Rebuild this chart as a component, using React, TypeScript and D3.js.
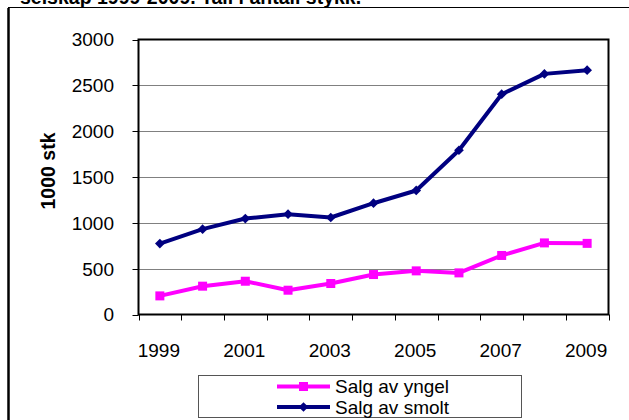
import * as d3 from "d3";
import { useRef, useEffect } from "react";

const years = ["1999", "2000", "2001", "2002", "2003", "2004", "2005", "2006", "2007", "2008", "2009"];
const yngel = [203, 309, 363, 265, 338, 436, 476, 454, 644, 781, 776];
const smolt = [774, 931, 1047, 1094, 1058, 1214, 1353, 1792, 2403, 2625, 2665];
const yTicks = [0, 500, 1000, 1500, 2000, 2500, 3000];
const xLabels = ["1999", "2001", "2003", "2005", "2007", "2009"];
const seriesNames = ["Salg av yngel", "Salg av smolt"];
const title = "selskap 1999-2009. Tall i antall stykk.";
const yLabel = "1000 stk";

export default function App() {
  const ref = useRef(null);

  useEffect(() => {
    const width = 629;
    const height = 420;
    const font = "Arial, 'Liberation Sans', sans-serif";
    const plot = { left: 138.5, right: 608.5, top: 39.5, bottom: 314.5 };

    const svg = d3.select(ref.current);
    svg.selectAll("*").remove();
    svg.attr("width", width).attr("height", height)
      .style("position", "absolute").style("left", 0).style("top", 0);

    svg.append("rect").attr("width", width).attr("height", height).attr("fill", "#fff");

    // title, cut off at the top edge like the source
    svg.append("text")
      .attr("x", 20).attr("y", 4)
      .attr("font-family", font).attr("font-size", 19.5).attr("font-weight", "bold")
      .text(title);

    // outer frame
    svg.append("line").attr("x1", 8).attr("x2", width).attr("y1", 7.5).attr("y2", 7.5)
      .attr("stroke", "#000").attr("stroke-width", 1);
    svg.append("line").attr("x1", 8.5).attr("x2", 8.5).attr("y1", 8).attr("y2", height)
      .attr("stroke", "#000").attr("stroke-width", 2.5);

    const x = d3.scaleBand().domain(years).range([plot.left, plot.right]);
    const y = d3.scaleLinear().domain([0, 3000]).range([plot.bottom, plot.top]);
    const cx = (yr) => x(yr) + x.bandwidth() / 2;

    // gridlines
    svg.append("g").selectAll("line")
      .data(yTicks.filter(t => t > 0 && t < 3000))
      .enter().append("line")
      .attr("x1", plot.left).attr("x2", plot.right)
      .attr("y1", d => Math.round(y(d)) + 0.5).attr("y2", d => Math.round(y(d)) + 0.5)
      .attr("stroke", "#808080").attr("stroke-width", 1);

    // plot border
    svg.append("rect")
      .attr("x", plot.left).attr("y", plot.top)
      .attr("width", plot.right - plot.left).attr("height", plot.bottom - plot.top)
      .attr("fill", "none").attr("stroke", "#000").attr("stroke-width", 2);

    // y ticks
    const yg = svg.append("g");
    yg.selectAll("line").data(yTicks).enter().append("line")
      .attr("x1", plot.left - 6).attr("x2", plot.left)
      .attr("y1", d => Math.round(y(d)) + 0.5).attr("y2", d => Math.round(y(d)) + 0.5)
      .attr("stroke", "#000");
    yg.selectAll("text").data(yTicks).enter().append("text")
      .attr("x", 114).attr("y", d => y(d)).attr("dy", "0.36em")
      .attr("text-anchor", "end")
      .attr("font-family", font).attr("font-size", 19)
      .text(d => d);

    // x ticks at category boundaries
    const bounds = years.map(yr => x(yr)).concat([plot.right]);
    svg.append("g").selectAll("line").data(bounds).enter().append("line")
      .attr("x1", d => Math.round(d) + 0.5).attr("x2", d => Math.round(d) + 0.5)
      .attr("y1", plot.bottom).attr("y2", plot.bottom + 6)
      .attr("stroke", "#000");
    svg.append("g").selectAll("text").data(xLabels).enter().append("text")
      .attr("x", d => cx(d) - 1).attr("y", 350).attr("dy", "0.36em")
      .attr("text-anchor", "middle")
      .attr("font-family", font).attr("font-size", 19)
      .text(d => d);

    // y axis title
    svg.append("text")
      .attr("transform", `translate(48,171) rotate(-90)`)
      .attr("text-anchor", "middle").attr("dy", "0.36em")
      .attr("font-family", font).attr("font-size", 19.5).attr("font-weight", "bold")
      .text(yLabel);

    const line = d3.line().x((d, i) => cx(years[i])).y(d => y(d));
    const colors = ["#FF00FF", "#000080"];
    const series = [yngel, smolt];

    series.forEach((vals, si) => {
      svg.append("path").datum(vals)
        .attr("d", line)
        .attr("fill", "none").attr("stroke", colors[si])
        .attr("stroke-width", 4).attr("stroke-linejoin", "round");
      const g = svg.append("g");
      if (si === 0) {
        g.selectAll("rect").data(vals).enter().append("rect")
          .attr("x", (d, i) => cx(years[i]) - 4.5).attr("y", d => y(d) - 4.5)
          .attr("width", 9).attr("height", 9).attr("fill", colors[si]);
      } else {
        g.selectAll("path").data(vals).enter().append("path")
          .attr("d", d3.symbol().type(d3.symbolDiamond2).size(60))
          .attr("transform", (d, i) => `translate(${cx(years[i])},${y(d)})`)
          .attr("fill", colors[si]);
      }
    });

    // legend
    const lg = svg.append("g");
    lg.append("rect").attr("x", 198.5).attr("y", 375.5).attr("width", 323).attr("height", 42)
      .attr("fill", "#fff").attr("stroke", "#555").attr("stroke-width", 1);
    seriesNames.forEach((name, i) => {
      const ly = 386.5 + i * 20.5;
      lg.append("line").attr("x1", 277).attr("x2", 330).attr("y1", ly).attr("y2", ly)
        .attr("stroke", colors[i]).attr("stroke-width", 4);
      if (i === 0) {
        lg.append("rect").attr("x", 299).attr("y", ly - 4.5).attr("width", 9).attr("height", 9)
          .attr("fill", colors[i]);
      } else {
        lg.append("path").attr("d", d3.symbol().type(d3.symbolDiamond2).size(60))
          .attr("transform", `translate(303.5,${ly})`).attr("fill", colors[i]);
      }
      lg.append("text").attr("x", 335).attr("y", ly).attr("dy", "0.36em")
        .attr("font-family", font).attr("font-size", 19)
        .text(name);
    });
  }, []);

  return <svg ref={ref}></svg>;
}
